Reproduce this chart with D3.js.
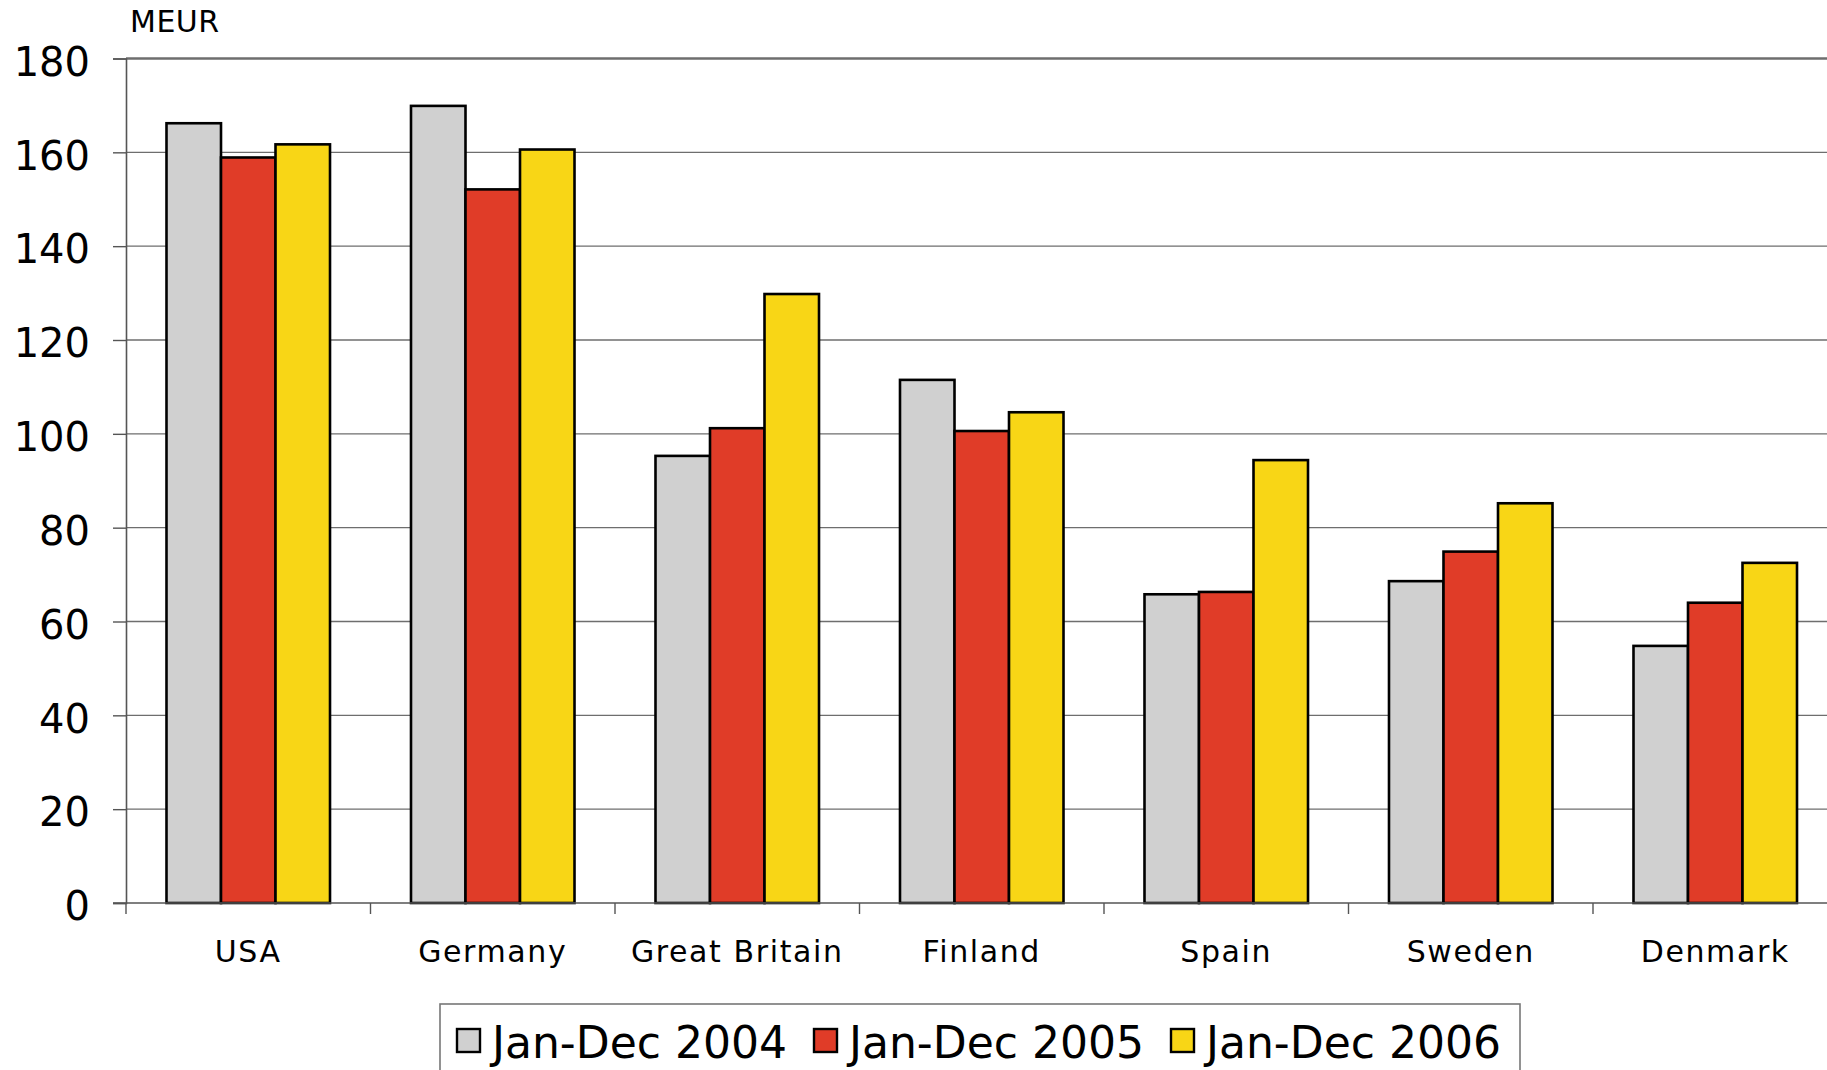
<!DOCTYPE html>
<html>
<head>
<meta charset="utf-8">
<script src="https://cdn.jsdelivr.net/npm/d3@7"></script>
<style>
  html, body { margin: 0; padding: 0; background: #fff; }
  svg { display: block; font-family: "DejaVu Sans", Verdana, sans-serif; }
</style>
</head>
<body>
<svg id="chart" width="1827" height="1070"></svg>
<script>
// Export revenue by market, MEUR
const countries = ["USA", "Germany", "Great Britain", "Finland", "Spain", "Sweden", "Denmark"];
const seriesNames = ["Jan-Dec 2004", "Jan-Dec 2005", "Jan-Dec 2006"];
const values2004 = [166.2, 169.9, 95.3, 111.5, 65.8, 68.6, 54.8];
const values2005 = [158.9, 152.1, 101.2, 100.6, 66.3, 74.9, 64.0];
const values2006 = [161.7, 160.6, 129.8, 104.6, 94.4, 85.2, 72.5];
const yTicks = [0, 20, 40, 60, 80, 100, 120, 140, 160, 180];
const unitLabel = "MEUR";

(function () {
  const seriesValues = [values2004, values2005, values2006];
  const colors = ["#d0d0d0", "#e03c28", "#f8d616"];

  const svg = d3.select("#chart");
  const plotLeft = 126, plotTop = 58.5, plotBottom = 903;
  const bandW = 244.5;
  const plotRight = plotLeft + bandW * countries.length;

  const x = d3.scaleBand().domain(countries).range([plotLeft, plotRight]).paddingInner(0).paddingOuter(0);
  const xInner = d3.scaleBand().domain(d3.range(seriesNames.length))
    .range([0, x.bandwidth()]).paddingOuter(0.743).paddingInner(0);
  const y = d3.scaleLinear().domain([0, 180]).range([plotBottom, plotTop]);

  // horizontal gridlines
  svg.append("g")
    .selectAll("line")
    .data(yTicks.filter(d => d > 0))
    .join("line")
    .attr("x1", plotLeft).attr("x2", 1827)
    .attr("y1", d => y(d)).attr("y2", d => y(d))
    .attr("stroke", "#6e6e6e")
    .attr("stroke-width", d => d === 180 ? 2.5 : 1.4);

  // y axis
  const yAxis = svg.append("g")
    .attr("transform", `translate(${plotLeft},0)`)
    .call(d3.axisLeft(y).tickValues(yTicks).tickSize(13).tickPadding(23).tickFormat(d3.format("d")));
  yAxis.select(".domain").attr("stroke", "#555").attr("stroke-width", 1.6);
  yAxis.selectAll(".tick line").attr("stroke", "#555").attr("stroke-width", 1.4);
  yAxis.selectAll(".tick text")
    .attr("font-size", 40)
    .attr("font-family", "DejaVu Sans, Verdana, sans-serif")
    .attr("fill", "#000")
    .attr("dy", "0.42em");

  // bars
  const groups = svg.append("g")
    .selectAll("g")
    .data(countries)
    .join("g")
    .attr("transform", d => `translate(${x(d)},0)`);

  groups.selectAll("rect")
    .data((c, i) => seriesValues.map((vals, s) => ({ s, v: vals[i] })))
    .join("rect")
    .attr("x", d => xInner(d.s))
    .attr("width", xInner.bandwidth())
    .attr("y", d => y(d.v))
    .attr("height", d => y(0) - y(d.v))
    .attr("fill", d => colors[d.s])
    .attr("stroke", "#000")
    .attr("stroke-width", 2.6);

  // x axis
  const xAxis = svg.append("g")
    .attr("transform", `translate(0,${plotBottom})`);
  xAxis.append("line")
    .attr("x1", plotLeft - 13).attr("x2", 1827)
    .attr("y1", 0).attr("y2", 0)
    .attr("stroke", "#555").attr("stroke-width", 1.6);
  xAxis.selectAll("line.tick")
    .data(countries)
    .join("line")
    .attr("class", "tick")
    .attr("x1", d => x(d)).attr("x2", d => x(d))
    .attr("y1", 0).attr("y2", 11)
    .attr("stroke", "#555").attr("stroke-width", 1.4);
  xAxis.selectAll("text")
    .data(countries)
    .join("text")
    .attr("x", d => x(d) + x.bandwidth() / 2)
    .attr("y", 59)
    .attr("text-anchor", "middle")
    .attr("font-size", 30)
    .attr("letter-spacing", 1.6)
    .attr("fill", "#000")
    .text(d => d);

  // unit label
  svg.append("text")
    .attr("x", 130).attr("y", 32)
    .attr("font-size", 30)
    .attr("letter-spacing", 0.5)
    .attr("fill", "#000")
    .text(unitLabel);

  // legend
  const legend = svg.append("g");
  legend.append("rect")
    .attr("x", 440).attr("y", 1004)
    .attr("width", 1080).attr("height", 80)
    .attr("fill", "#fff")
    .attr("stroke", "#777").attr("stroke-width", 1.6);
  const entryX = [457, 814, 1171];
  const items = legend.selectAll("g.item")
    .data(seriesNames)
    .join("g")
    .attr("class", "item")
    .attr("transform", (d, i) => `translate(${entryX[i]},0)`);
  items.append("rect")
    .attr("x", 0).attr("y", 1029)
    .attr("width", 23).attr("height", 23)
    .attr("fill", (d, i) => colors[i])
    .attr("stroke", "#000").attr("stroke-width", 2.4);
  items.append("text")
    .attr("x", 35).attr("y", 1058)
    .attr("font-size", 45)
    .attr("textLength", 295)
    .attr("lengthAdjust", "spacingAndGlyphs")
    .attr("fill", "#000")
    .text(d => d);
})();
</script>
</body>
</html>
